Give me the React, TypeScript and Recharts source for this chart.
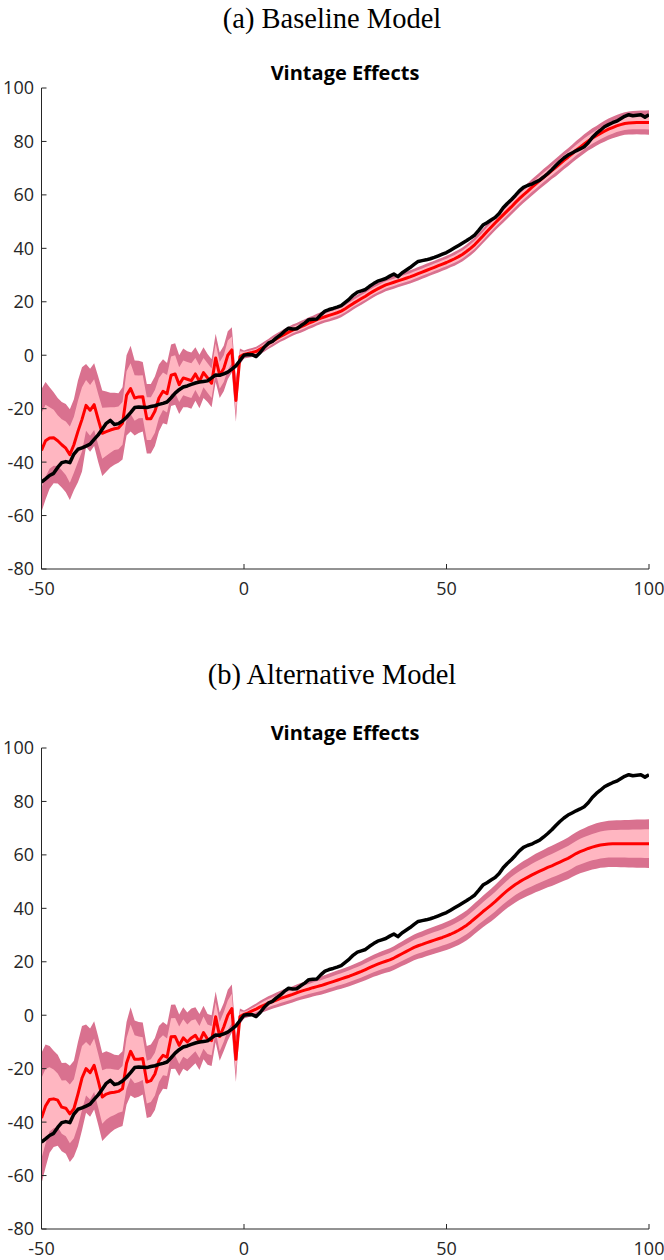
import React from 'react';
import { ComposedChart, Area, Line, XAxis, YAxis } from 'recharts';

// Vintage grid (x categories)
const vintagePre = [-50,-49,-48,-47,-46,-45,-44,-43,-42,-41,-40,-39,-38,-37,-36,-35,-34,-33,-32,-31,-30,-29,-28,-27,-26,-25,-24,-23,-22,-21,-20,-19,-18,-17,-16,-15,-14,-13,-12,-11,-10,-9,-8,-7,-6,-5,-4,-3,-2,-1,0];
const vintagePost = [1,2,3,4,5,6,7,8,9,10,11,12,13,14,15,16,17,18,19,20,21,22,23,24,25,26,27,28,29,30,31,32,33,34,35,36,37,38,39,40,41,42,43,44,45,46,47,48,49,50,51,52,53,54,55,56,57,58,59,60,61,62,63,64,65,66,67,68,69,70,71,72,73,74,75,76,77,78,79,80,81,82,83,84,85,86,87,88,89,90,91,92,93,94,95,96,97,98,99,100];

const xTicks = [-50, 0, 50, 100];
const yTicks = [-80, -60, -40, -20, 0, 20, 40, 60, 80, 100];

// Observed vintage effects (black line), same in both panels
const observedPre = [-47.5,-46.3,-45,-44.2,-42,-40.2,-39.8,-40.2,-37,-35.2,-34.7,-34,-33.3,-31.5,-29.8,-27.7,-25.5,-24.4,-25.9,-25.6,-24.6,-23.2,-21.5,-19.6,-19.4,-19.5,-19.6,-19.2,-18.9,-18.4,-18,-17.5,-15.9,-14.2,-12.9,-11.9,-11.5,-10.9,-10.4,-10,-9.8,-9.6,-8.5,-7.4,-7.5,-7,-6.3,-5.2,-4,-2,0];
const observedPost = [0.3,0.2,-0.5,1,3,4.5,5.2,6.5,7.6,9,10.1,9.8,9.9,11,12,13.3,13.5,13.6,15.2,16.5,17.1,17.5,18,18.6,19.8,21,22.5,23.6,24.1,24.6,25.8,26.8,27.7,28.2,28.7,29.6,30.4,29.4,30.8,31.8,32.8,34,35.1,35.4,35.7,36.1,36.6,37.2,37.8,38.4,39.3,40.2,41.1,42,42.9,43.9,45,46.8,48.7,49.6,50.6,51.5,53,55.2,56.8,58.2,59.8,61.5,62.8,63.5,64,64.8,65.5,66.7,68,69.4,71,72.5,73.8,74.9,75.7,76.5,77.2,78,79.5,81.5,83,84.2,85.5,86.3,87,87.6,88.5,89.4,90,89.6,89.8,90,89.1,90];

// Panel (a) baseline model estimate (red) and band half-widths
const baselinePre = [-35.6,-32,-31,-30.9,-32,-33.5,-34.8,-37.2,-33.5,-28.5,-24,-18.75,-20.6,-18.5,-24,-29.2,-28.6,-28,-27.5,-27.2,-25.5,-15,-12.5,-16,-15.6,-15.5,-23.75,-23.75,-21,-16,-13.5,-14.4,-7.5,-7,-11,-8.5,-9,-9.5,-7,-9.8,-6.5,-8.5,-10.5,-1,-7.5,-5,0,2,-16.9,-0.5,0.3];
const baselinePost = [0.7,1,1.4,2.3,3.2,4.2,5.2,6.1,7,7.8,8.6,9.4,10,10.6,11.3,12,12.6,13.3,13.9,14.4,14.9,15.4,15.9,16.5,17.4,18.4,19.4,20.3,21.2,22.1,23.1,24,24.8,25.6,26.3,26.8,27.3,27.8,28.3,28.8,29.3,29.9,30.5,31.1,31.7,32.3,32.9,33.5,34.1,34.7,35.4,36.1,36.9,37.8,38.9,40.1,41.4,43,44.6,46.3,47.9,49.5,51,52.5,54,55.5,57.1,58.6,60,61.3,62.7,64,65.3,66.6,67.8,69.1,70.3,71.6,72.9,74.1,75.4,76.7,77.9,79.1,80.2,81.2,82.1,83,83.8,84.6,85.2,85.8,86.3,86.7,86.9,87,87.1,87.1,87.1,87.1];
const baselineInnerPre = [14,13.5,11.5,10.5,9.5,9.5,10,10.5,10.5,11.5,12,9.5,9.5,9.5,9.5,9.5,9,8.5,8,8,8,9,9.5,8.5,8,8,8,8,8,7.5,7,7,7,7,6.5,6.5,6.5,6.5,6,6,5.5,5.5,5.5,5.5,5,5,5.5,5,5,2,1];
const baselineInnerPost = [0.9,1,1,1,1.1,1.1,1.1,1.1,1.1,1.2,1.2,1.2,1.2,1.2,1.2,1.2,1.2,1.2,1.2,1.2,1.3,1.3,1.3,1.3,1.3,1.3,1.3,1.3,1.3,1.3,1.3,1.3,1.3,1.35,1.35,1.35,1.35,1.35,1.4,1.4,1.4,1.4,1.4,1.4,1.4,1.4,1.4,1.4,1.4,1.4,1.45,1.45,1.5,1.5,1.5,1.5,1.55,1.55,1.55,1.6,1.6,1.6,1.6,1.65,1.65,1.65,1.7,1.7,1.7,1.7,1.75,1.75,1.8,1.8,1.8,1.85,1.85,1.9,1.9,1.9,1.95,2,2,2,2.05,2.1,2.1,2.15,2.2,2.25,2.3,2.3,2.35,2.4,2.4,2.45,2.5,2.5,2.55,2.6];
const baselineOuterPre = [23,22,19,17,16,16,16.5,17,17,19,19.5,15.5,15.5,15.5,16,16,15,14,13.5,13,13.5,15,16,14,13.5,13,13,13,13,12.5,12,11.5,11.5,11.5,11,11,10.5,10.5,10,10,9.5,9,9,9,8.5,8.5,9,8.5,8,3,1.5];
const baselineOuterPost = [1.6,1.7,1.8,1.8,1.9,1.9,2,2,2,2.1,2.1,2.1,2.1,2.2,2.2,2.2,2.2,2.2,2.2,2.2,2.3,2.3,2.3,2.3,2.3,2.3,2.3,2.3,2.3,2.3,2.3,2.3,2.3,2.4,2.4,2.4,2.4,2.4,2.4,2.4,2.5,2.5,2.5,2.5,2.5,2.5,2.5,2.5,2.5,2.5,2.5,2.6,2.6,2.6,2.6,2.7,2.7,2.7,2.7,2.8,2.8,2.8,2.8,2.9,2.9,2.9,3,3,3,3,3.1,3.1,3.1,3.2,3.2,3.2,3.3,3.3,3.3,3.4,3.4,3.5,3.5,3.6,3.6,3.7,3.7,3.8,3.9,4,4,4.1,4.2,4.2,4.3,4.4,4.4,4.5,4.5,4.6];

// Panel (b) alternative model estimate (red) and band half-widths
const alternativePre = [-38.5,-34,-31.5,-31.3,-31.8,-34.4,-34.8,-36.9,-35,-29.5,-23.5,-20,-21.5,-18.75,-24.5,-30.6,-29.5,-29,-28.8,-28.5,-27.5,-18,-13.5,-16.5,-16.5,-16.2,-25,-24.5,-22,-17,-15,-15.7,-8.1,-8,-11.25,-8.5,-10,-8.5,-7.5,-10,-6.5,-9,-9.5,-0.6,-8,-4.4,0,2.5,-16.5,-0.5,0.3];
const alternativePost = [0.9,1.6,2.3,3.1,3.8,4.5,5.1,5.7,6.3,6.8,7.3,7.8,8.4,8.9,9.4,9.8,10.3,10.7,11.1,11.6,12.1,12.6,13.1,13.6,14.1,14.6,15.2,15.8,16.4,17.1,17.8,18.5,19.1,19.7,20.2,20.7,21.4,22.2,23,23.8,24.6,25.4,26,26.5,27.1,27.6,28.1,28.6,29.1,29.7,30.3,31,31.8,32.7,33.7,34.9,36.2,37.5,38.8,40,41.2,42.5,43.9,45.3,46.6,47.8,48.9,49.9,50.8,51.6,52.4,53.2,53.9,54.6,55.3,55.9,56.6,57.3,58,58.7,59.6,60.5,61.2,61.8,62.4,62.9,63.3,63.7,63.9,64.1,64.2,64.2,64.2,64.2,64.2,64.2,64.2,64.2,64.2,64.2];
const alternativeInnerPre = [15,14,12,11,10,10,10.5,11,11,12,12,10,10,10,10,10,9.5,9,8.5,8,8.5,9.5,10,9,8.5,8,8,8,8,8,7.5,7,7,7,7,7,6.5,6.5,6,6,6,5.5,5.5,5.5,5.5,5.5,5.5,5.5,5,2,1];
const alternativeInnerPost = [1,1.1,1.2,1.35,1.5,1.55,1.6,1.65,1.7,1.75,1.8,1.8,1.85,1.85,1.9,1.9,1.95,2,2,2.05,2.05,2.1,2.1,2.15,2.2,2.2,2.25,2.25,2.3,2.35,2.4,2.4,2.5,2.5,2.55,2.6,2.6,2.65,2.7,2.75,2.8,2.85,2.9,2.9,2.95,3,3,3.05,3.05,3.1,3.15,3.2,3.25,3.25,3.3,3.35,3.4,3.4,3.5,3.55,3.6,3.65,3.7,3.75,3.85,3.9,3.95,4,4.05,4.1,4.2,4.25,4.3,4.35,4.4,4.4,4.5,4.5,4.55,4.6,4.65,4.7,4.8,4.85,4.9,4.95,5,5.05,5.1,5.1,5.15,5.15,5.2,5.2,5.25,5.3,5.3,5.3,5.35,5.4];
const alternativeOuterPre = [24.5,23,20,18,17,16.5,17,18,18,19.5,19.5,16.5,16.5,16.5,16.5,16.5,16,15,14,13.5,14,15.5,16.5,14.5,14,13.5,13.5,13.5,13.5,13,12.5,12,12,12,11.5,11.5,11,11,10.5,10.5,10,9.5,9.5,9.5,9,9,9.5,9,8.5,3,1.5];
const alternativeOuterPost = [1.7,1.9,2.1,2.3,2.5,2.6,2.7,2.8,2.9,3,3,3.05,3.1,3.15,3.2,3.25,3.3,3.35,3.4,3.45,3.5,3.55,3.6,3.65,3.7,3.75,3.8,3.85,3.9,4,4.05,4.1,4.2,4.25,4.3,4.4,4.45,4.5,4.6,4.7,4.75,4.8,4.9,4.95,5,5.05,5.1,5.15,5.2,5.3,5.35,5.4,5.5,5.55,5.6,5.7,5.75,5.8,5.9,6,6.1,6.2,6.3,6.4,6.5,6.6,6.7,6.8,6.9,7,7.1,7.2,7.3,7.35,7.45,7.5,7.6,7.65,7.7,7.8,7.9,8,8.1,8.2,8.3,8.4,8.5,8.55,8.6,8.65,8.7,8.75,8.8,8.85,8.9,8.95,9,9,9.05,9.1];

const vintages = [...vintagePre, ...vintagePost];
const observed = [...observedPre, ...observedPost];

const AXIS_COLOR = '#262626';
const TICK_FONT = { fill: '#262626', fontSize: 18, fontFamily: '"Open Sans", "Noto Sans", sans-serif' };

function buildRows(est: number[], inner: number[], outer: number[]) {
  return vintages.map((v, i) => ({
    v,
    obs: observed[i],
    est: est[i],
    inner: [est[i] - inner[i], est[i] + inner[i]],
    outer: [est[i] - outer[i], est[i] + outer[i]],
  }));
}

function Panel({ top, est, inner, outer }: { top: number; est: number[]; inner: number[]; outer: number[] }) {
  const data = buildRows(est, inner, outer);
  return (
    <div style={{ position: 'absolute', left: 0, top, width: 664, height: 620 }}>
      <ComposedChart width={664} height={620} data={data} margin={{ top: 88, right: 15, bottom: 21, left: 0 }}>
        <XAxis
          dataKey="v"
          type="number"
          domain={[-50, 100]}
          ticks={xTicks}
          allowDataOverflow
          height={30}
          stroke={AXIS_COLOR}
          tickSize={-5}
          tickMargin={18}
          tick={TICK_FONT}
          tickLine={{ stroke: AXIS_COLOR }}
          axisLine={{ stroke: AXIS_COLOR }}
        />
        <YAxis
          type="number"
          domain={[-80, 100]}
          ticks={yTicks}
          allowDataOverflow
          width={41.5}
          stroke={AXIS_COLOR}
          tickSize={-5}
          tickMargin={12.5}
          tick={TICK_FONT}
          tickLine={{ stroke: AXIS_COLOR }}
          axisLine={{ stroke: AXIS_COLOR }}
        />
        <Area type="linear" dataKey="outer" fill="#D9718F" fillOpacity={1} stroke="none" isAnimationActive={false} dot={false} activeDot={false} />
        <Area type="linear" dataKey="inner" fill="#FFB6C1" fillOpacity={1} stroke="none" isAnimationActive={false} dot={false} activeDot={false} />
        <Line type="linear" dataKey="est" stroke="#FF0000" strokeWidth={3} dot={false} activeDot={false} isAnimationActive={false} strokeLinejoin="round" />
        <Line type="linear" dataKey="obs" stroke="#000000" strokeWidth={3.5} dot={false} activeDot={false} isAnimationActive={false} strokeLinejoin="round" />
      </ComposedChart>
    </div>
  );
}

export default function App() {
  const serif = '"Liberation Serif", "DejaVu Serif", serif';
  const sans = '"Open Sans", "Noto Sans", sans-serif';
  return (
    <div style={{ position: 'absolute', left: 0, top: 0, width: 664, height: 1260, background: '#fff', overflow: 'hidden' }}>
      <Panel top={0} est={[...baselinePre, ...baselinePost]} inner={[...baselineInnerPre, ...baselineInnerPost]} outer={[...baselineOuterPre, ...baselineOuterPost]} />
      <Panel top={660} est={[...alternativePre, ...alternativePost]} inner={[...alternativeInnerPre, ...alternativeInnerPost]} outer={[...alternativeOuterPre, ...alternativeOuterPost]} />
      <svg width={664} height={1260} style={{ position: 'absolute', left: 0, top: 0, pointerEvents: 'none' }}>
        <text x={332} y={28} textAnchor="middle" fontFamily={serif} fontSize={28.5} fill="#000">(a) Baseline Model</text>
        <text x={345} y={80} textAnchor="middle" fontFamily={sans} fontWeight={700} fontSize={20} fill="#000">Vintage Effects</text>
        <text x={332} y={684} textAnchor="middle" fontFamily={serif} fontSize={28.5} fill="#000">(b) Alternative Model</text>
        <text x={345} y={740} textAnchor="middle" fontFamily={sans} fontWeight={700} fontSize={20} fill="#000">Vintage Effects</text>
      </svg>
    </div>
  );
}
